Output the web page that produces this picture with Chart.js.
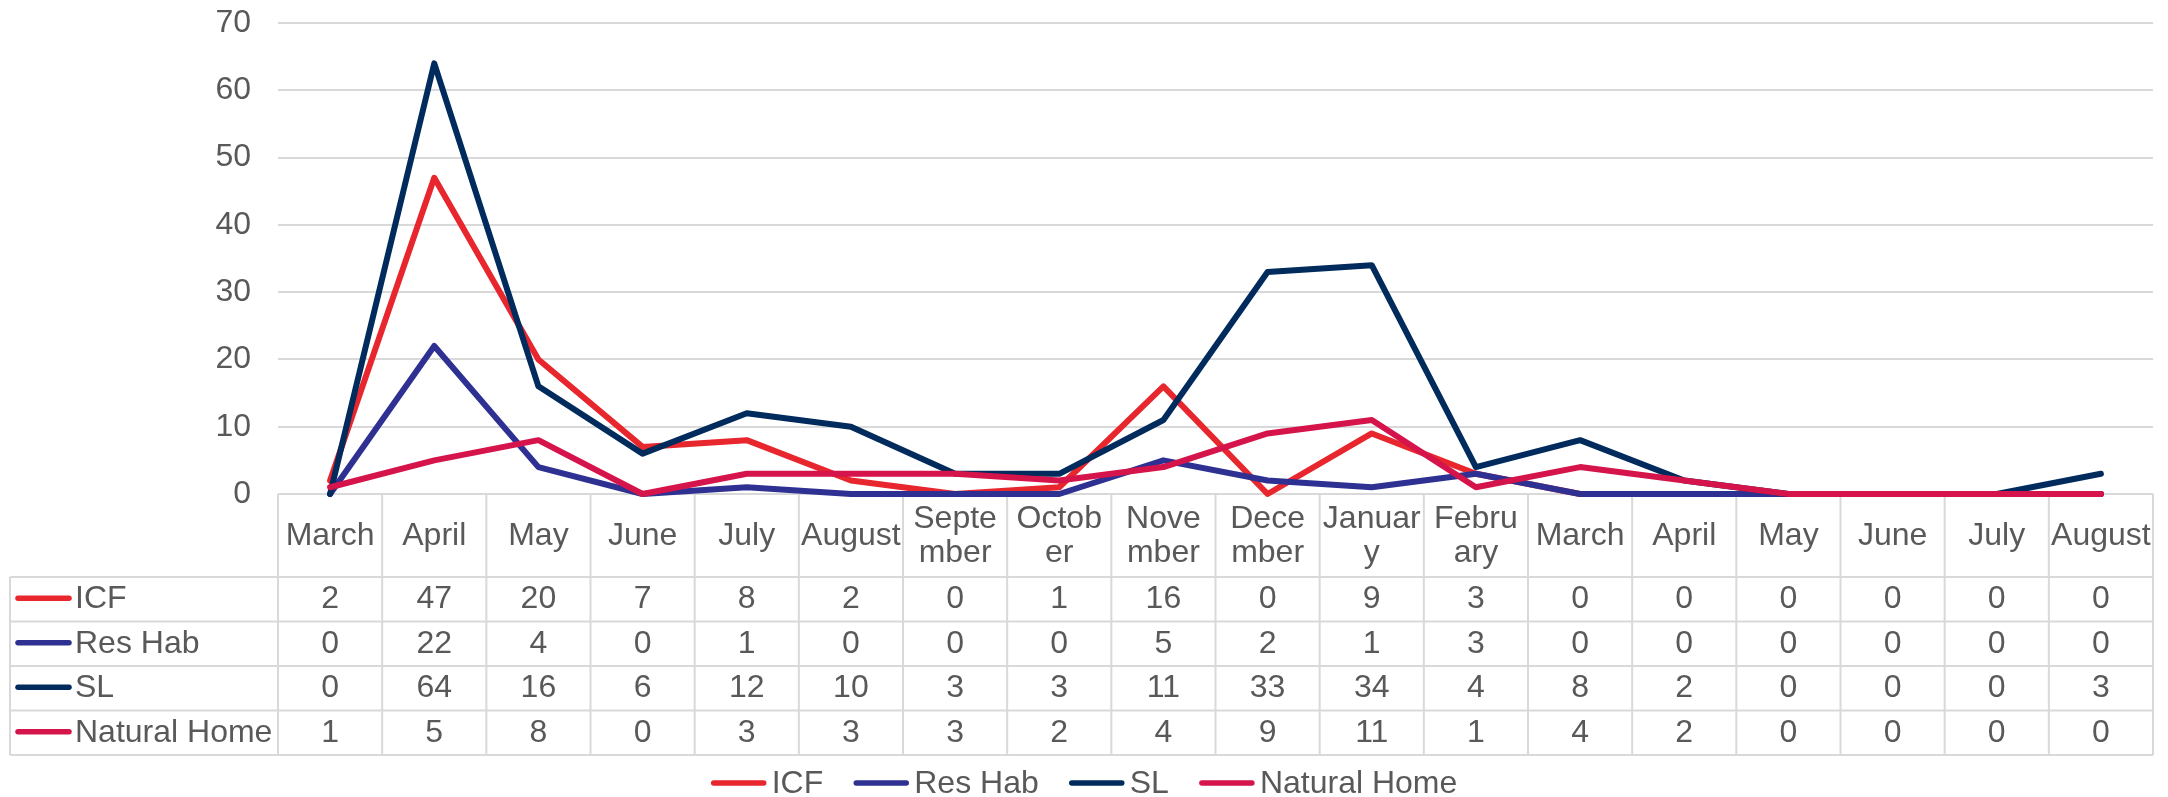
<!DOCTYPE html>
<html>
<head>
<meta charset="utf-8">
<script src="https://cdn.jsdelivr.net/npm/chart.js@4/dist/chart.umd.min.js"></script>
<style>
  html, body { margin: 0; padding: 0; background: #fff; }
  #wrap { width: 2168px; height: 797px; position: relative; }
</style>
</head>
<body>
<div id="wrap"><canvas id="lineChart"></canvas></div>
<script>
// Month columns (header text of the data table, split lines with \n)
var months = ['March', 'April', 'May', 'June', 'July', 'August', 'Septe\nmber', 'Octob\ner',
    'Nove\nmber', 'Dece\nmber', 'Januar\ny', 'Febru\nary', 'March', 'April', 'May', 'June', 'July', 'August'];

// Series values
var icf = [2, 47, 20, 7, 8, 2, 0, 1, 16, 0, 9, 3, 0, 0, 0, 0, 0, 0];
var resHab = [0, 22, 4, 0, 1, 0, 0, 0, 5, 2, 1, 3, 0, 0, 0, 0, 0, 0];
var sl = [0, 64, 16, 6, 12, 10, 3, 3, 11, 33, 34, 4, 8, 2, 0, 0, 0, 3];
var naturalHome = [1, 5, 8, 0, 3, 3, 3, 2, 4, 9, 11, 1, 4, 2, 0, 0, 0, 0];

var seriesNames = ['ICF', 'Res Hab', 'SL', 'Natural Home'];
var seriesColors = ['#E8262D', '#2E3192', '#002B5C', '#D4144A'];

var yTicks = [0, 10, 20, 30, 40, 50, 60, 70];

var textColor = '#595959';
var gridColor = '#D9D9D9';
var fontFam = '"Liberation Sans", Arial, sans-serif';

function legendLine(ctx, x1, x2, y, color) {
    ctx.save();
    ctx.strokeStyle = color;
    ctx.lineWidth = 5.5;
    ctx.lineCap = 'round';
    ctx.beginPath();
    ctx.moveTo(x1, y);
    ctx.lineTo(x2, y);
    ctx.stroke();
    ctx.restore();
}

// Data table + legend under the plot
var tablePlugin = {
    id: 'dataTable',
    beforeDatasetsDraw: function (chart) {
        // table grid goes under the lines
        var ctx = chart.ctx;
        var area = chart.chartArea;
        var n = months.length;
        var colW = (area.right - area.left) / n;
        var top = area.bottom;
        var headBottom = top + 83;
        var rowH = 44.5;
        var tableLeft = 10;
        var tableBottom = headBottom + rowH * 4;

        ctx.save();
        ctx.strokeStyle = gridColor;
        ctx.lineWidth = 2;
        ctx.beginPath();
        for (var r = 0; r <= 4; r++) {
            var yy = headBottom + rowH * r;
            ctx.moveTo(tableLeft, yy);
            ctx.lineTo(area.right, yy);
        }
        ctx.moveTo(tableLeft, headBottom);
        ctx.lineTo(tableLeft, tableBottom);
        for (var c = 0; c <= n; c++) {
            var xx = area.left + colW * c;
            ctx.moveTo(xx, top);
            ctx.lineTo(xx, tableBottom);
        }
        ctx.stroke();
        ctx.restore();
    },
    afterDraw: function (chart) {
        var ctx = chart.ctx;
        var xs = chart.scales.x;
        var area = chart.chartArea;
        var allData = [icf, resHab, sl, naturalHome];
        var n = months.length;
        var top = area.bottom;
        var headBottom = top + 83;
        var rowH = 44.5;

        ctx.save();
        ctx.fillStyle = textColor;
        ctx.textBaseline = 'middle';
        ctx.textAlign = 'center';
        ctx.font = '32px ' + fontFam;

        // header labels
        var headMid = (top + headBottom) / 2 + 1;
        for (var i = 0; i < n; i++) {
            var cx = xs.getPixelForValue(i);
            var parts = months[i].split('\n');
            if (parts.length === 1) {
                ctx.fillText(parts[0], cx, headMid);
            } else {
                ctx.fillText(parts[0], cx, headMid - 17);
                ctx.fillText(parts[1], cx, headMid + 17);
            }
        }

        // rows
        for (var s = 0; s < allData.length; s++) {
            var cy = headBottom + rowH * s + rowH / 2;
            legendLine(ctx, 18, 69, cy - 1, seriesColors[s]);
            ctx.textAlign = 'left';
            ctx.fillText(seriesNames[s], 75, cy);
            ctx.textAlign = 'center';
            for (var j = 0; j < n; j++) {
                ctx.fillText(String(allData[s][j]), xs.getPixelForValue(j), cy);
            }
        }

        // bottom legend, centred on the canvas
        var ly = 783;
        var lineLen = 56, gapText = 5, gapItem = 30;
        var widths = seriesNames.map(function (t) { return ctx.measureText(t).width; });
        var total = 0;
        widths.forEach(function (w) { total += lineLen + gapText + w; });
        total += gapItem * (widths.length - 1);
        var lx = chart.width / 2 - total / 2;
        ctx.textAlign = 'left';
        for (var k = 0; k < seriesNames.length; k++) {
            legendLine(ctx, lx + 3, lx + lineLen - 3, ly, seriesColors[k]);
            ctx.fillText(seriesNames[k], lx + lineLen + gapText, ly + 1);
            lx += lineLen + gapText + widths[k] + gapItem;
        }
        ctx.restore();
    }
};

function makeSet(label, data, color, order) {
    return {
        label: label,
        data: data,
        borderColor: color,
        backgroundColor: color,
        borderWidth: 6,
        borderJoinStyle: 'round',
        borderCapStyle: 'round',
        pointRadius: 0,
        fill: false,
        tension: 0,
        clip: false,
        order: order
    };
}

var ctx = document.getElementById('lineChart').getContext('2d');
var currentLineChart = new Chart(ctx, {
    type: 'line',
    data: {
        labels: months,
        datasets: [
            makeSet('ICF', icf, seriesColors[0], 3),
            makeSet('Res Hab', resHab, seriesColors[1], 2),
            makeSet('SL', sl, seriesColors[2], 1),
            makeSet('Natural Home', naturalHome, seriesColors[3], 0)
        ]
    },
    options: {
        responsive: true,
        maintainAspectRatio: false,
        animation: false,
        layout: {
            padding: { top: 23, right: 15, bottom: 303, left: 0 }
        },
        plugins: {
            legend: { display: false },
            tooltip: { enabled: false }
        },
        scales: {
            x: {
                display: false,
                offset: true
            },
            y: {
                min: 0,
                max: 70,
                afterBuildTicks: function (scale) {
                    scale.ticks = yTicks.map(function (v) { return { value: v }; });
                },
                afterFit: function (scale) {
                    scale.width = 278;
                    scale.paddingTop = 0;
                    scale.paddingBottom = 0;
                },
                border: { display: false },
                grid: {
                    color: gridColor,
                    lineWidth: 2,
                    drawTicks: false
                },
                ticks: {
                    padding: 27,
                    color: textColor,
                    font: { family: fontFam, size: 32 }
                }
            }
        }
    },
    plugins: [tablePlugin]
});
</script>
</body>
</html>
